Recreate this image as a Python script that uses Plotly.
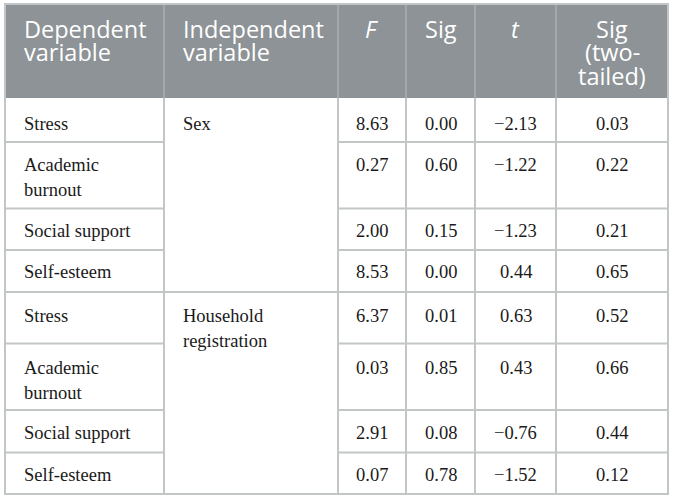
import plotly.graph_objects as go

# table contents
headers = ["Dependent<br>variable", "Independent<br>variable", "<i>F</i>", "Sig", "<i>t</i>", "Sig<br>(two-<br>tailed)"]
groups = ["Sex", "Household<br>registration"]
dependent = ["Stress", "Academic<br>burnout", "Social support", "Self-esteem"]
f_vals = [8.63, 0.27, 2.00, 8.53, 6.37, 0.03, 2.91, 0.07]
sig_vals = [0.00, 0.60, 0.15, 0.00, 0.01, 0.85, 0.08, 0.78]
t_vals = [-2.13, -1.22, -1.23, 0.44, 0.63, 0.43, -0.76, -1.52]
sig2_vals = [0.03, 0.22, 0.21, 0.65, 0.52, 0.66, 0.44, 0.12]

# layout of the grid (pixels)
col_edges = [5, 164, 338, 406, 475, 556, 668]
head_top, head_bot = 4, 98
row_h = [44, 66.5, 41.5, 42, 51.5, 66.5, 42.5, 41.5]
text_off = [25.5, 22.5, 22, 22, 24, 24, 23.3, 22.6]
pad_x = 18

head_fill = "#8d9396"
grid = "#c3c6c6"
ink = "#1a1a1a"

def fmt(v):
    s = f"{abs(v):.2f}"
    return ("\u2212" + s) if v < 0 else s

row_edges = [head_bot]
for h in row_h:
    row_edges.append(row_edges[-1] + h)
n_rows = len(row_h)
per_group = len(dependent)

shapes = []
annotations = []

def line(x0, y0, x1, y1, color=grid, w=2):
    shapes.append(dict(type="line", xref="x", yref="y", x0=x0, y0=y0, x1=x1, y1=y1,
                       line=dict(color=color, width=w)))

# header background
shapes.append(dict(type="rect", xref="x", yref="y", x0=col_edges[0], x1=col_edges[-1],
                   y0=head_top, y1=head_bot, fillcolor=head_fill, line=dict(width=0), layer="below"))
for x in col_edges[1:-1]:
    line(x, head_top, x, head_bot, color="#a3a8ab", w=2)

# body verticals
for x in col_edges[1:-1]:
    line(x, head_bot, x, row_edges[-1])

# body horizontals (the second column is merged within a group)
for i in range(1, n_rows):
    y = row_edges[i]
    if i % per_group == 0:
        line(col_edges[0], y, col_edges[-1], y)
    else:
        line(col_edges[0], y, col_edges[1], y)
        line(col_edges[2], y, col_edges[-1], y)

# outer border
shapes.append(dict(type="rect", xref="x", yref="y", x0=col_edges[0], x1=col_edges[-1],
                   y0=head_top, y1=row_edges[-1], line=dict(color=grid, width=2)))

def put_lines(text, x, y_first, step, size, family, color, xanchor):
    for k, part in enumerate(text.split("<br>")):
        annotations.append(dict(x=x, y=y_first + k * step, xref="x", yref="y", text=part,
                                showarrow=False, xanchor=xanchor, yanchor="middle", borderpad=0,
                                font=dict(family=family, size=size, color=color)))

head_font = "Open Sans"
body_font = "Liberation Serif"

# header text
for j, h in enumerate(headers):
    if j < 2:
        x, anc = col_edges[j] + pad_x, "left"
    else:
        x, anc = (col_edges[j] + col_edges[j + 1]) / 2, "center"
    put_lines(h, x, 28.5, 23.5, 23.5, head_font, "white", anc)

# body text
for i in range(n_rows):
    yc = row_edges[i] + text_off[i]
    put_lines(dependent[i % per_group], col_edges[0] + pad_x, yc, 25, 18.5, body_font, ink, "left")
    if i % per_group == 0:
        put_lines(groups[i // per_group], col_edges[1] + pad_x, yc, 25, 18.5, body_font, ink, "left")
    for j, col in enumerate([f_vals, sig_vals, t_vals, sig2_vals]):
        xc = (col_edges[j + 2] + col_edges[j + 3]) / 2
        put_lines(fmt(col[i]), xc, yc, 25, 18.5, body_font, ink, "center")

fig = go.Figure()
fig.update_layout(
    width=674, height=500, autosize=False,
    margin=dict(l=0, r=0, t=0, b=0),
    paper_bgcolor="white", plot_bgcolor="white",
    xaxis=dict(range=[0, 674], visible=False, fixedrange=True),
    yaxis=dict(range=[500, 0], visible=False, fixedrange=True),
    shapes=shapes, annotations=annotations, showlegend=False,
)
fig.write_html("out.html", config={"displayModeBar": False},
               post_script="document.body.style.margin='0px';")
